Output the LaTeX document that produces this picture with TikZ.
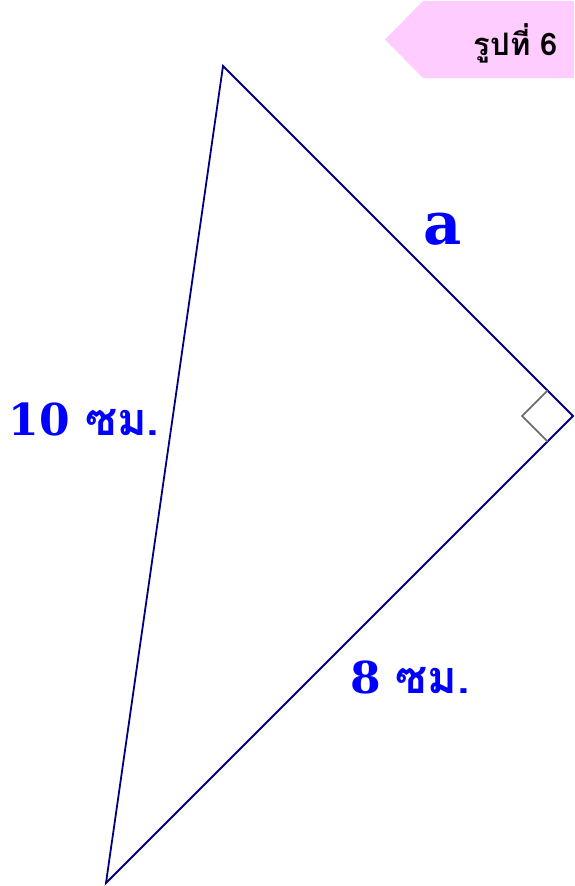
\documentclass[tikz,border=0pt]{standalone}
\usepackage{fontspec}
\usetikzlibrary{calc}
\setmainfont{DejaVu Serif}
\newfontfamily\thaifont[Script=Thai]{Loma}
\definecolor{edgeblue}{HTML}{000080}
\definecolor{lblblue}{HTML}{0000FF}
\definecolor{tagpink}{HTML}{FFCCFF}
\definecolor{markgray}{HTML}{707070}
\begin{document}
\begin{tikzpicture}[x=1pt,y=-1pt,
  edge/.style={draw=edgeblue,line width=1.8pt,line join=miter},
  lbl/.style={text=lblblue,font=\fontsize{44}{48}\selectfont\bfseries,inner sep=0pt},
  tagtext/.style={text=black,font=\thaifont\fontsize{31}{34}\selectfont\bfseries,inner sep=0pt}]
\useasboundingbox (0,0) rectangle (574,886);
\fill[white] (0,0) rectangle (574,886);
% tag
\fill[tagpink] (574,1) -- (423,1) -- (385,39.5) -- (423,78) -- (574,78) -- cycle;
\node[tagtext] (tag) at (516,43) {รูปที่ 6};
% triangle
\coordinate (T) at (223,66);
\coordinate (R) at (573,416);
\coordinate (B) at (106,883);
\draw[edge] (T) -- (R) -- (B) -- cycle;
% right angle mark
\coordinate (m1) at ($(R)!36pt!(T)$);
\coordinate (m2) at ($(R)!36pt!(B)$);
\draw[markgray,line width=1.8pt] (m1) -- ($(m1)+(m2)-(R)$) -- (m2);
% labels
\node[lbl,font=\fontsize{59}{63}\selectfont\bfseries] (la) at (443,229) {a};
\node[lbl] (l10) at (84,419) {10 {\thaifont\fontsize{45}{50}\selectfont ซม.}};
\node[lbl] (l8) at (410,677) {8 {\thaifont\fontsize{45}{50}\selectfont ซม.}};
\end{tikzpicture}
\end{document}
